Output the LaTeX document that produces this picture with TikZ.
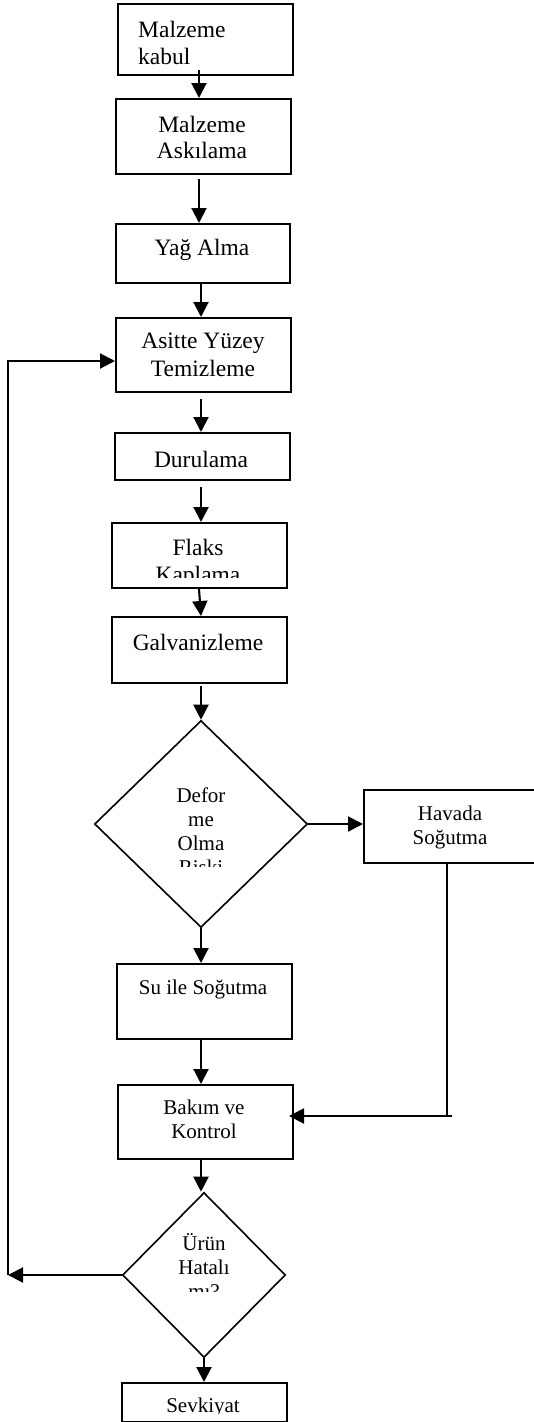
\documentclass[tikz,border=0pt]{standalone}
\usepackage{fontspec}
\setmainfont{Liberation Serif}
\usetikzlibrary{arrows.meta,shapes.geometric,calc}
\begin{document}
\begin{tikzpicture}[x=1pt,y=-1pt,
  box/.style={draw, line width=2pt, inner sep=0pt, anchor=north west},
  dia/.style={draw, diamond, line width=1.6pt, inner sep=0pt, anchor=center},
  txt/.style={inner sep=0pt, anchor=base, font=\fontsize{23.5}{27}\selectfont},
  stxt/.style={inner sep=0pt, anchor=base, font=\fontsize{21}{24}\selectfont},
  arr/.style={line width=2.1pt, -{Triangle[length=15pt,width=15pt]}},
  ln/.style={line width=1.9pt}]
\clip (0,0) rectangle (534,1422);
\fill[white] (0,0) rectangle (534,1422);
% boxes
\node[box, minimum width=175pt, minimum height=71pt] (kabul) at (117,3) {};
\node[box, minimum width=175pt, minimum height=75pt] (askl) at (115,98) {};
\node[box, minimum width=174pt, minimum height=59pt] (yag) at (115,223) {};
\node[box, minimum width=175pt, minimum height=74pt] (asit) at (115,317) {};
\node[box, minimum width=175pt, minimum height=47pt] (durul) at (114,432) {};
\node[box, minimum width=175pt, minimum height=65pt] (flaks) at (111,522) {};
\node[box, minimum width=175pt, minimum height=66pt] (galv) at (111,616) {};
\node[dia, minimum width=213pt, minimum height=207pt] (d1) at (201,824) {};
\node[box, minimum width=180pt, minimum height=73pt] (hava) at (363,789) {};
\node[box, minimum width=175pt, minimum height=75pt] (su) at (116,963) {};
\node[box, minimum width=175pt, minimum height=74pt] (bakim) at (117,1084) {};
\node[dia, minimum width=163pt, minimum height=165pt] (d2) at (204,1275) {};
\node[box, minimum width=165pt, minimum height=39pt] (sevk) at (121,1382) {};
% texts
\node[txt, anchor=base west] at (138,37) {Malzeme};
\node[txt, anchor=base west] at (138,64) {kabul};
\node[txt] at (202,132) {Malzeme};
\node[txt] at (202,158) {Askılama};
\node[txt] at (202,255) {Yağ Alma};
\node[txt] at (203,348) {Asitte Yüzey};
\node[txt] at (203,376) {Temizleme};
\node[txt] at (201,467) {Durulama};
\node[txt] at (198,555) {Flaks};
\begin{scope}
  \clip (111,522) rectangle (286,577);
  \node[txt] at (198,582) {Kaplama};
\end{scope}
\node[txt] at (198,650) {Galvanizleme};
\node[stxt] at (201,802) {Defor};
\node[stxt] at (201,826) {me};
\node[stxt] at (201,850) {Olma};
\begin{scope}
  \clip (150,855) rectangle (250,866);
  \node[stxt] at (201,874) {Riski};
\end{scope}
\node[stxt] at (450,820) {Havada};
\node[stxt] at (450,844) {Soğutma};
\node[stxt] at (203,994) {Su ile Soğutma};
\node[stxt] at (204,1114) {Bakım ve};
\node[stxt] at (204,1138) {Kontrol};
\node[stxt] at (204,1250) {Ürün};
\node[stxt] at (204,1274) {Hatalı};
\begin{scope}
  \clip (150,1280) rectangle (260,1291);
  \node[stxt] at (204,1298) {mı?};
\end{scope}
\begin{scope}
  \clip (121,1382) rectangle (286,1413);
  \node[stxt] at (203,1412) {Sevkiyat};
\end{scope}
% spine coordinates
\coordinate (s1) at (199,0);
\coordinate (s2) at (201,0);
\coordinate (lt) at (8,361);
\coordinate (lb) at (8,1277);
\coordinate (hc) at (447,1116);
% connectors
\draw[arr] ($(kabul.south -| s1)+(0,-6)$) -- (askl.north -| s1);
\draw[arr] ($(askl.south -| s1)+(0,4)$) -- (yag.north -| s1);
\draw[arr] (yag.south -| s2) -- (asit.north -| s2);
\draw[arr] ($(asit.south -| s2)+(0,6)$) -- (durul.north -| s2);
\draw[arr] ($(durul.south -| s2)+(0,6)$) -- (flaks.north -| s2);
\draw[arr] (flaks.south -| s1) -- (galv.north -| s2);
\draw[arr] ($(galv.south -| d1.north)+(0,2)$) -- (d1.north);
\draw[arr] (d1.east) -- (hava.west |- d1.east);
\draw[arr] (d1.south) -- (su.north -| d1.south);
\draw[arr] (su.south -| s2) -- (bakim.north -| s2);
\draw[arr] (bakim.south -| s2) -- (d2.north -| s2);
\draw[arr] (d2.south) -- (sevk.north -| d2.south);
\draw[arr] (d2.west) -- (d2.west -| lb);
\draw[arr] (d2.west -| lb) -- (lt) -- (asit.west |- lt);
\draw[ln] (hava.south -| hc) -- (hc);
\draw[arr] ($(hc)+(5,0)$) -- ($(bakim.east |- hc)+(-5,0)$);
\end{tikzpicture}
\end{document}
